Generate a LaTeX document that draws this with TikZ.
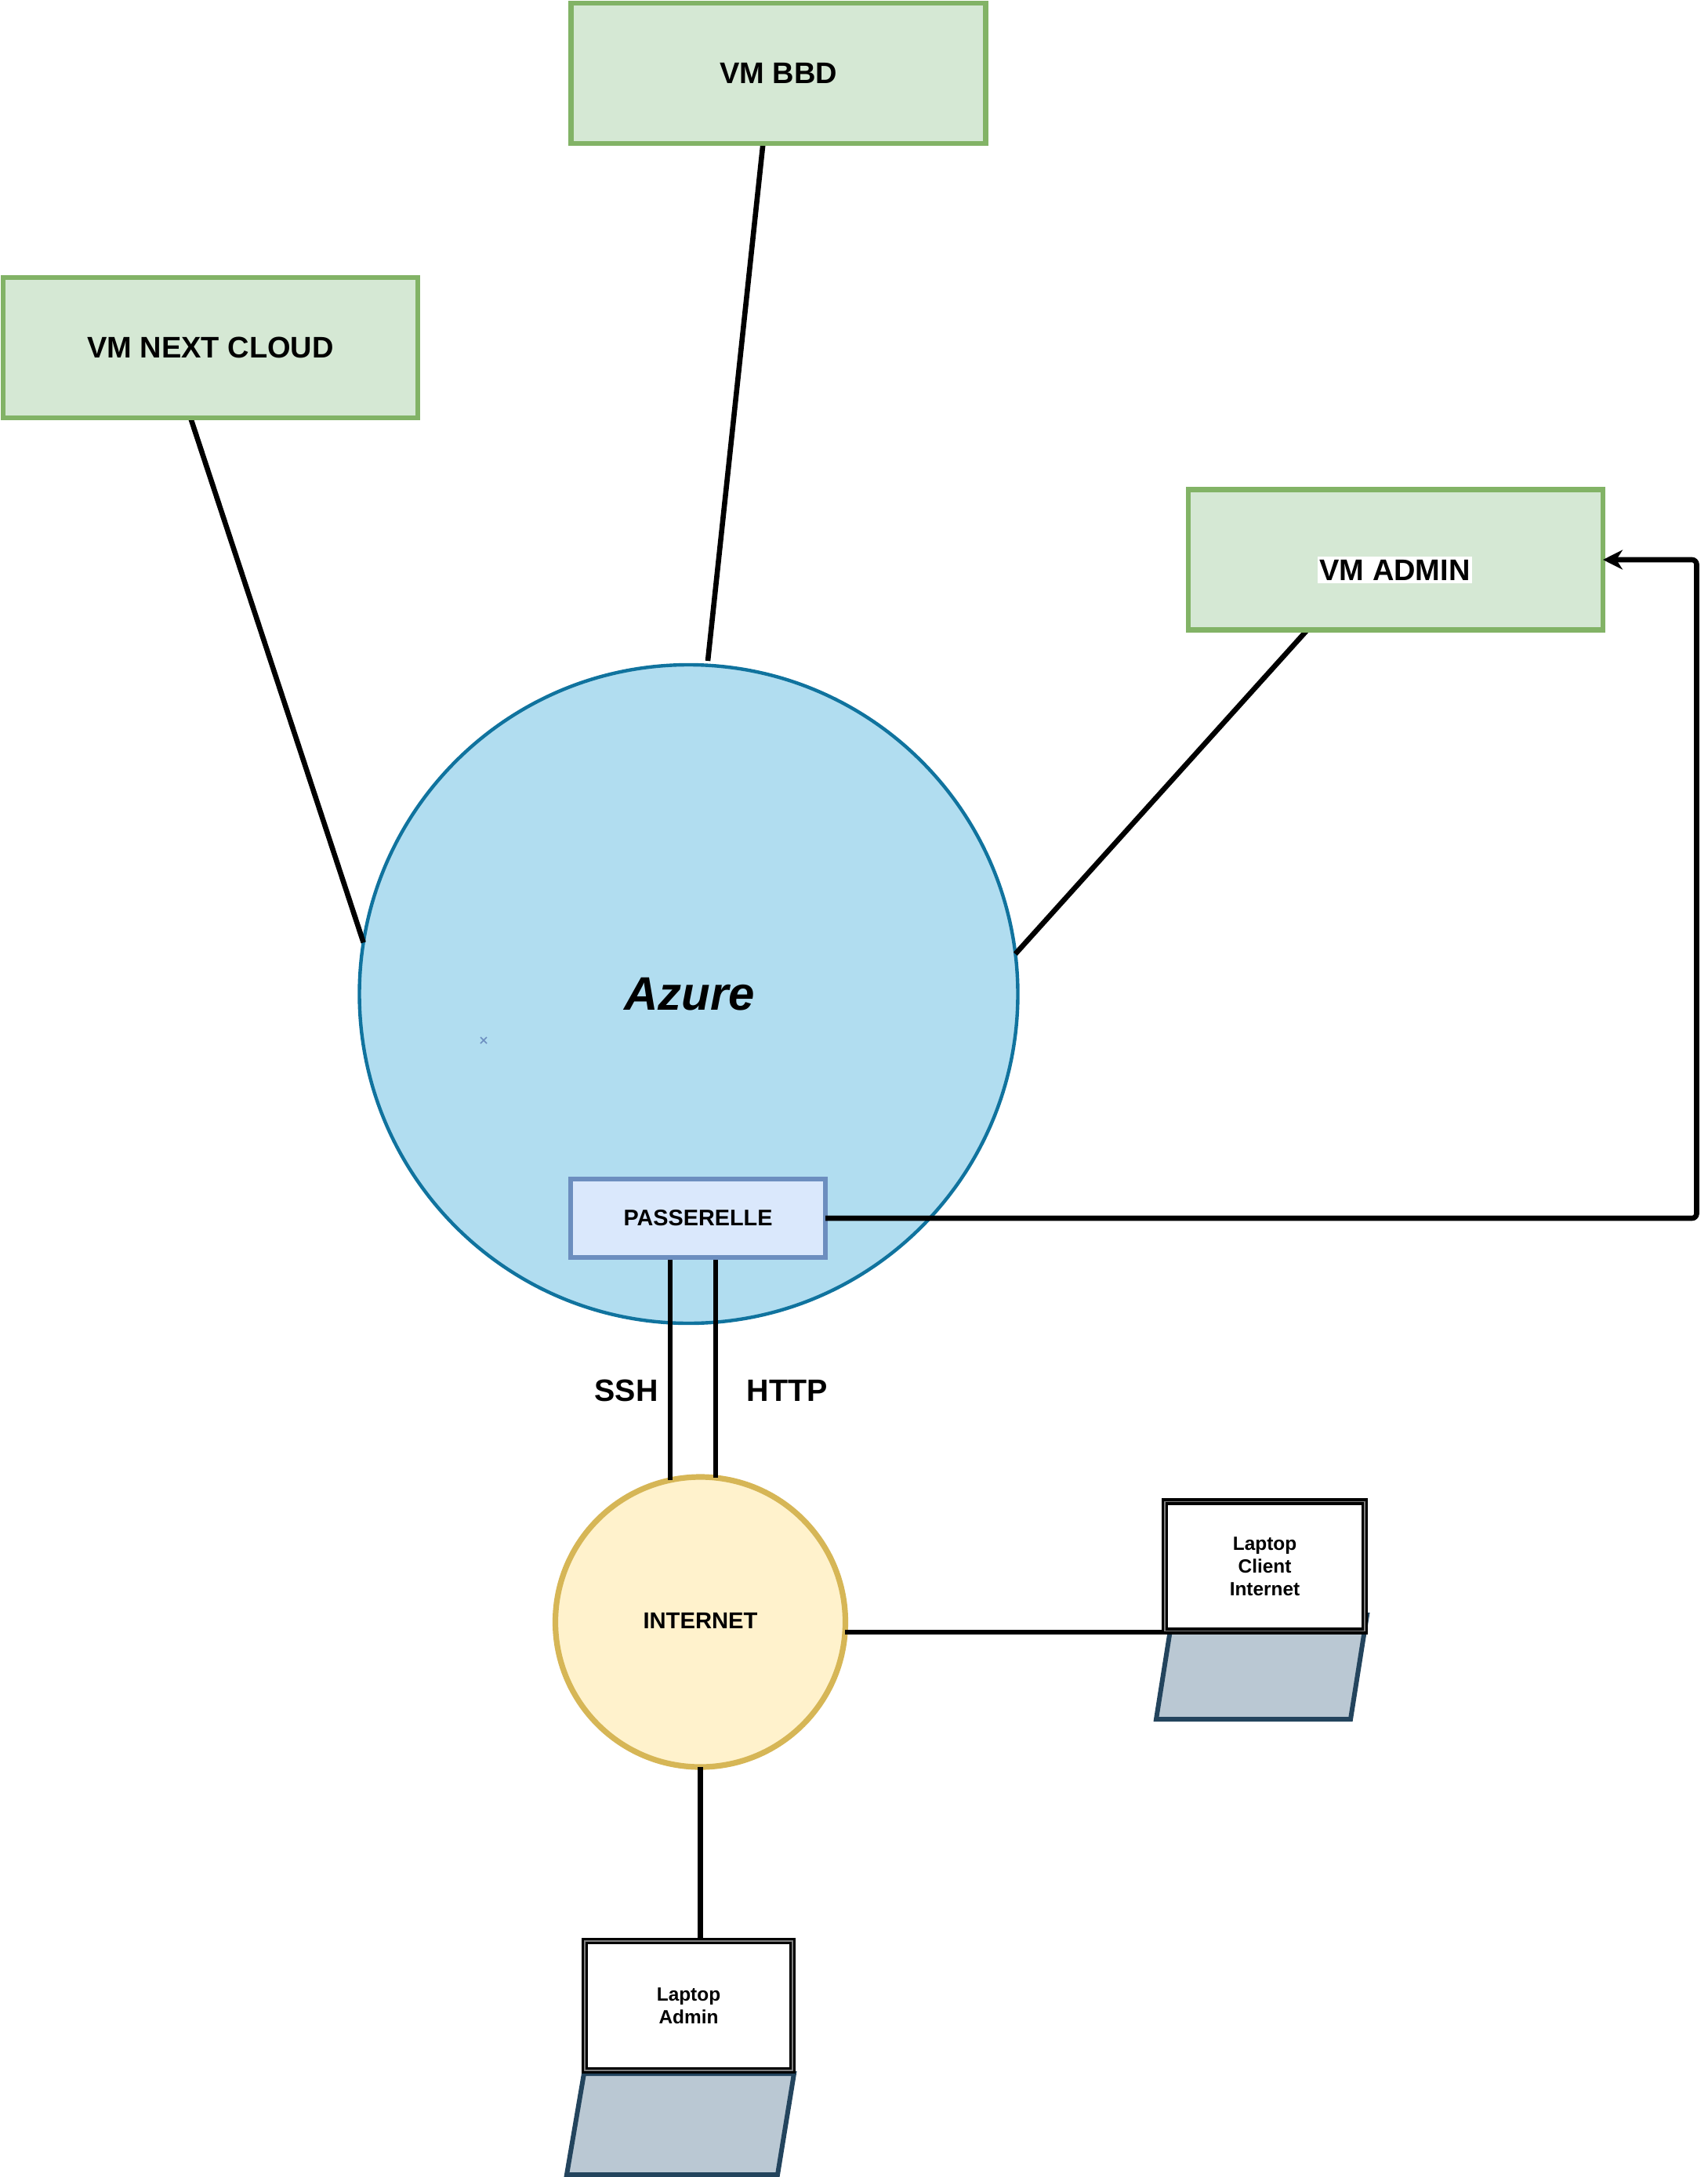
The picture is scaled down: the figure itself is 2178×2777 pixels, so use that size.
\documentclass[tikz,border=0pt]{standalone}
\usepackage{fontspec}
\setmainfont{Liberation Sans}
\usetikzlibrary{arrows.meta,shapes.misc,calc}
\pgfdeclarelayer{base}
\pgfdeclarelayer{wire}
\pgfdeclarelayer{top}
\pgfsetlayers{base,wire,main,top}
\definecolor{greenfill}{HTML}{D5E8D4}
\definecolor{greenline}{HTML}{82B366}
\definecolor{azurefill}{HTML}{B1DDF0}
\definecolor{azureline}{HTML}{10739E}
\definecolor{bluefill}{HTML}{DAE8FC}
\definecolor{blueline}{HTML}{6C8EBF}
\definecolor{yellowfill}{HTML}{FFF2CC}
\definecolor{yellowline}{HTML}{D6B656}
\definecolor{padfill}{HTML}{BAC8D3}
\definecolor{padline}{HTML}{23445D}
\tikzset{
  every node/.style={outer sep=0pt,inner sep=0pt,text=black},
  vmbox/.style={rectangle,draw=greenline,fill=greenfill,line width=3.2pt,minimum width=264.5pt,minimum height=89.5pt,font=\bfseries\fontsize{19}{23}\selectfont},
  gateway/.style={rectangle,draw=blueline,fill=bluefill,line width=3.2pt,minimum width=162.5pt,minimum height=50pt,font=\bfseries\fontsize{14.4}{17}\selectfont},
  cloud/.style={circle,draw=azureline,fill=azurefill,line width=2.2pt,minimum size=420pt,font=\bfseries\itshape\fontsize{30}{36}\selectfont},
  netcircle/.style={circle,draw=yellowline,fill=yellowfill,line width=3.6pt,minimum size=185pt},
  nettext/.style={font=\bfseries\fontsize{14.6}{17}\selectfont},
  screen/.style={rectangle,draw=black,double=gray,double distance=0.9pt,line width=1.6pt,fill=white,minimum height=82.5pt,font=\bfseries\fontsize{12.2}{14.5}\selectfont,align=center},
  keypad/.style={draw=padline,fill=padfill,line width=3pt,line join=miter},
  wireline/.style={draw=black,line width=3.3pt},
  proto/.style={font=\bfseries\fontsize{19.7}{23}\selectfont},
  tick/.style={cross out,draw=blueline,line width=0.8pt,minimum size=4pt}
}
\begin{document}
\begin{tikzpicture}[x=0.5pt,y=-0.5pt]
\useasboundingbox (0,0) rectangle (2178,2777);
\begin{pgfonlayer}{base}
  \node[cloud] (azure) at (878.5,1268) {};
  \node (azuretext) at (880,1268) [font=\bfseries\itshape\fontsize{30}{36}\selectfont] {Azure};
  \node[tick] (mark) at (617,1327) {};
  \node[netcircle] (internet) at (893.5,2069) {};
  \node[nettext] (internettext) at (893.5,2067.5) {INTERNET};
  \draw[keypad] (1496,2060) -- (1744,2060) -- (1723,2193) -- (1475,2193) -- cycle;
  \draw[keypad] (745,2645) -- (1013,2645) -- (992,2774) -- (723,2774) -- cycle;
\end{pgfonlayer}
\node[vmbox] (bbd) at (993,93.5) {VM BBD};
\node[vmbox] (nextcloud) at (268.5,443.5) {VM NEXT CLOUD};
\node[vmbox] (vmadmin) at (1780.5,714) {};
\node[font=\bfseries\fontsize{19}{23}\selectfont,fill=white,inner xsep=1pt,inner ysep=2pt] (adminlabel) at (1779.5,727) {VM ADMIN};
\node[gateway] (gate) at (890.5,1554) {PASSERELLE};
\node[screen,minimum width=127.5pt] (client) at (1613.5,1998) {Laptop\\Client\\Internet};
\node[screen,minimum width=132.5pt] (admin) at (878.5,2558.5) {Laptop\\Admin};
\node[proto] (ssh) at (799,1774) {SSH};
\node[proto] (http) at (1004,1774) {HTTP};
\coordinate (rail) at (2164.5,714);
\coordinate (bbdend) at (903,843);
\begin{pgfonlayer}{wire}
  \draw[wireline] ($(nextcloud.south west)!0.452!(nextcloud.south east)$) -- (azure.171.6);
  \draw[wireline] ($(bbd.south west)!0.463!(bbd.south east)$) -- (bbdend);
  \draw[wireline] ($(vmadmin.south west)!0.287!(vmadmin.south east)$) -- (azure.7.75);
  \draw[wireline] (internet.102.6) -- (internet.102.6 |- gate.south);
  \draw[wireline] (internet.84) -- (internet.84 |- gate.south);
  \draw[wireline] (internet.-4.9) -- (internet.-4.9 -| client.west);
  \draw[wireline] (internet.south) -- (internet.south |- admin.north);
\end{pgfonlayer}
\begin{pgfonlayer}{top}
  \draw[wireline,rounded corners=3pt,-{Stealth[length=12.5pt,width=12.5pt,inset=4pt]}] (gate.east) -| (rail) -- (vmadmin.east);
\end{pgfonlayer}
\end{tikzpicture}
\end{document}
